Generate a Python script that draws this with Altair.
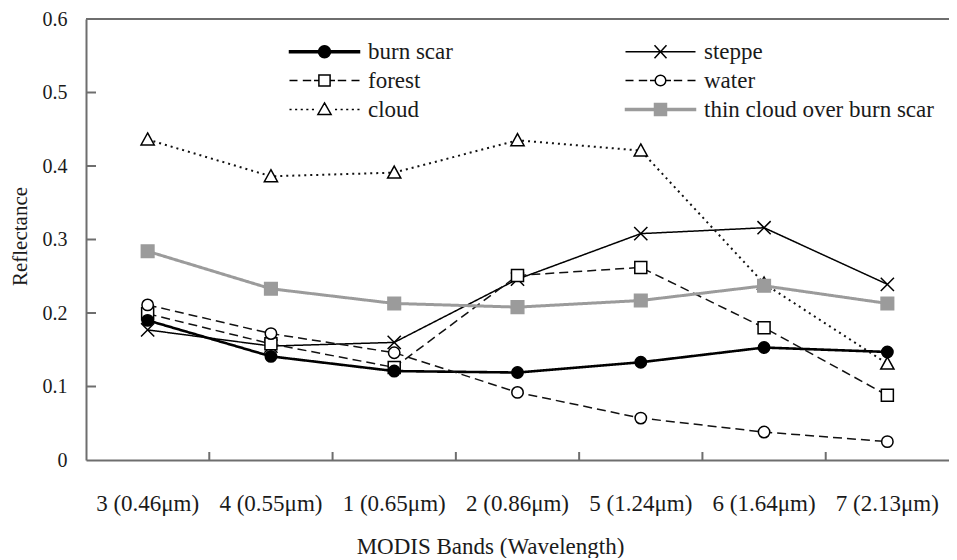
import altair as alt
import pandas as pd

# ---------------- data ----------------
bands = ["3 (0.46μm)", "4 (0.55μm)", "1 (0.65μm)", "2 (0.86μm)",
         "5 (1.24μm)", "6 (1.64μm)", "7 (2.13μm)"]
series_names = ["burn scar", "steppe", "forest", "water", "cloud",
                "thin cloud over burn scar"]
burn_scar = [0.190, 0.141, 0.121, 0.119, 0.133, 0.153, 0.147]
steppe = [0.177, 0.155, 0.160, 0.246, 0.308, 0.316, 0.239]
forest = [0.199, 0.158, 0.126, 0.251, 0.262, 0.180, 0.088]
water = [0.211, 0.172, 0.146, 0.092, 0.057, 0.038, 0.025]
cloud = [0.436, 0.386, 0.391, 0.435, 0.421, 0.240, 0.131]
thin_cloud = [0.284, 0.233, 0.213, 0.208, 0.217, 0.237, 0.213]
y_ticks = [0, 0.1, 0.2, 0.3, 0.4, 0.5, 0.6]

values_by_series = [burn_scar, steppe, forest, water, cloud, thin_cloud]
rows = []
for name, vals in zip(series_names, values_by_series):
    for b, v in zip(bands, vals):
        rows.append({"series": name, "band": b, "value": v})
df = pd.DataFrame(rows)

draw_order = ["cloud", "steppe", "forest", "water", "burn scar",
              "thin cloud over burn scar"]
df_points = pd.concat([df[df.series == s] for s in draw_order])

df_yticks = pd.DataFrame({"value": y_ticks[1:-1]})
df_xticks = pd.DataFrame({"band": bands[1:]})
df_top = pd.DataFrame({"value": y_ticks[-1:]})

# legend is laid out column by column: this order gives the reference's rows
legend_order = ["burn scar", "forest", "cloud", "steppe", "water",
                "thin cloud over burn scar"]

# ---------------- styles ----------------
FONT = "Liberation Serif"
AX = "#6e6e6e"
TXT = "#1a1a1a"
GRAY = "#9b9b9b"
W, H = 863, 441

xscale = alt.Scale(type="band", domain=bands, paddingInner=0, paddingOuter=0)
yscale = alt.Scale(domain=[0, 0.6], nice=False, zero=True)

xaxis = alt.Axis(title="MODIS Bands (Wavelength)", ticks=False, tickSize=0,
                 domainColor=AX, domainWidth=2, labelPadding=32, labelAngle=0,
                 labelFontSize=23, titleFontSize=23,
                 grid=False, titleX=404, titleY=93, titleAlign="center",
                 titleBaseline="alphabetic")
yaxis = alt.Axis(title="Reflectance", values=y_ticks, format=".1~f", ticks=False,
                 tickSize=0, domainColor=AX, domainWidth=2, labelPadding=19,
                 labelFontSize=20, titleFontSize=21,
                 grid=False, titleX=-66, titleY=217, titleAngle=270,
                 titleAlign="center", titleBaseline="middle")


def X(**kw):
    return alt.X("band:N", sort=bands, scale=xscale, axis=xaxis, **kw)


def Y():
    return alt.Y("value:Q", scale=yscale, axis=yaxis)


line_colors = ["#000000", "#000000", "#111111", "#111111", "#111111", GRAY]
line_dashes = [[1, 0], [1, 0], [9, 5], [9, 5], [2, 4], [1, 0]]

pt_shapes = [
    "M0.95,0A0.95,0.95 0 1,1 -0.95,0A0.95,0.95 0 1,1 0.95,0Z",
    "M-1.1,-1.1L1.1,1.1M-1.1,1.1L1.1,-1.1",
    "M-1,-1H1V1H-1Z",
    "M0.95,0A0.95,0.95 0 1,1 -0.95,0A0.95,0.95 0 1,1 0.95,0Z",
    "M0,-1.1L1.1,0.9H-1.1Z",
    "M-1.05,-1.05H1.05V1.05H-1.05Z",
]
pt_fill = ["#000000", "#ffffff", "#ffffff", "#ffffff", "#ffffff", GRAY]
pt_stroke = ["#000000", "#000000", "#000000", "#000000", "#000000", GRAY]

# legend glyphs: a 70px line sample with its marker (1 unit = 10px)
DASHES = "M-3.5,0H-2.7M-2.17,0H-1.33M-1.05,0H-0.56M0.56,0H1.05M1.33,0H2.17M2.7,0H3.5"
DOTS = ("M-3.5,0H-3.29M-2.94,0H-2.73M-2.38,0H-2.17M-1.82,0H-1.61M-1.26,0H-1.05"
        "M1.05,0H1.26M1.61,0H1.82M2.17,0H2.38M2.73,0H2.94M3.29,0H3.5")
leg_shape_of = {
    "burn scar": "M-3.5,-0.09H3.5V0.09H-3.5Z"
                 "M0.6,0A0.6,0.6 0 1,1 -0.6,0A0.6,0.6 0 1,1 0.6,0Z",
    "steppe": "M-3.5,0H3.5M-0.6,-0.65L0.6,0.65M-0.6,0.65L0.6,-0.65",
    "forest": DASHES + "M-0.56,-0.56H0.56V0.56H-0.56Z",
    "water": DASHES + "M0.53,0A0.53,0.53 0 1,1 -0.53,0A0.53,0.53 0 1,1 0.53,0Z",
    "cloud": DOTS + "M0,-0.66L0.66,0.5H-0.66Z",
    "thin cloud over burn scar": "M-3.5,-0.1H3.5V0.1H-3.5ZM-0.6,-0.6H0.6V0.6H-0.6Z",
}
fill_of = dict(zip(series_names, pt_fill))
stroke_of = dict(zip(series_names, pt_stroke))

# ---------------- layers ----------------
top_rule = alt.Chart(df_top).mark_rule(color=AX, strokeWidth=2).encode(y=Y())

yticks = alt.Chart(df_yticks).mark_rule(color=AX, strokeWidth=2).encode(
    y=Y(), x=alt.value(0), x2=alt.value(10))

xticks = alt.Chart(df_xticks).mark_rule(color=AX, strokeWidth=2).encode(
    x=X(bandPosition=0), y=alt.value(H), y2=alt.value(H - 8))

lines = alt.Chart(df).mark_line().encode(
    x=X(bandPosition=0.5),
    y=Y(),
    color=alt.Color("series:N", scale=alt.Scale(domain=series_names, range=line_colors),
                    legend=None),
    strokeDash=alt.StrokeDash("series:N",
                              scale=alt.Scale(domain=series_names, range=line_dashes),
                              legend=None),
    strokeWidth=alt.StrokeWidthValue(1.5, condition=[
        {"test": "datum.series === 'thin cloud over burn scar'", "value": 3},
        {"test": "datum.series === 'burn scar'", "value": 2.6},
        {"test": "datum.series === 'cloud'", "value": 2},
    ]),
)

points = alt.Chart(df_points).mark_point(filled=True, opacity=1, size=144,
                                         strokeWidth=1.5).encode(
    x=X(bandPosition=0.5),
    y=Y(),
    shape=alt.Shape("series:N", scale=alt.Scale(domain=series_names, range=pt_shapes),
                    legend=None),
    fill=alt.Fill("series:N", scale=alt.Scale(domain=series_names, range=pt_fill),
                  legend=None),
    stroke=alt.Stroke("series:N", scale=alt.Scale(domain=series_names, range=pt_stroke),
                      legend=None),
)

leg = alt.Legend(title=None, orient="none", legendX=203, legendY=21, columns=2,
                 columnPadding=169, rowPadding=5, symbolSize=400,
                 symbolOffset=24, symbolStrokeWidth=1.5, labelFont=FONT,
                 labelFontSize=23, labelColor=TXT, labelOffset=32, labelLimit=400)

legend_layer = alt.Chart(df).transform_filter("false").mark_point(
    filled=True, opacity=1, size=400, strokeWidth=1.5).encode(
    x=X(bandPosition=0.5),
    y=Y(),
    shape=alt.Shape("series:N", scale=alt.Scale(
        domain=legend_order, range=[leg_shape_of[s] for s in legend_order]), legend=leg),
    fill=alt.Fill("series:N", scale=alt.Scale(
        domain=legend_order, range=[fill_of[s] for s in legend_order]), legend=leg),
    stroke=alt.Stroke("series:N", scale=alt.Scale(
        domain=legend_order, range=[stroke_of[s] for s in legend_order]), legend=leg),
)

chart = (
    alt.layer(top_rule, yticks, xticks, lines, points, legend_layer)
    .resolve_scale(shape="independent", fill="independent", stroke="independent")
    .properties(width=W, height=H,
                padding={"left": 78, "top": 11, "right": 0, "bottom": 98},
                autosize=alt.AutoSizeParams(type="none"),
                background="white")
    .configure_view(strokeWidth=0)
    .configure_axis(labelFont=FONT, labelColor=TXT,
                    titleFont=FONT, titleColor=TXT,
                    titleFontWeight="normal")
)

chart.save("out.html", embed_options={"renderer": "svg", "actions": False})
